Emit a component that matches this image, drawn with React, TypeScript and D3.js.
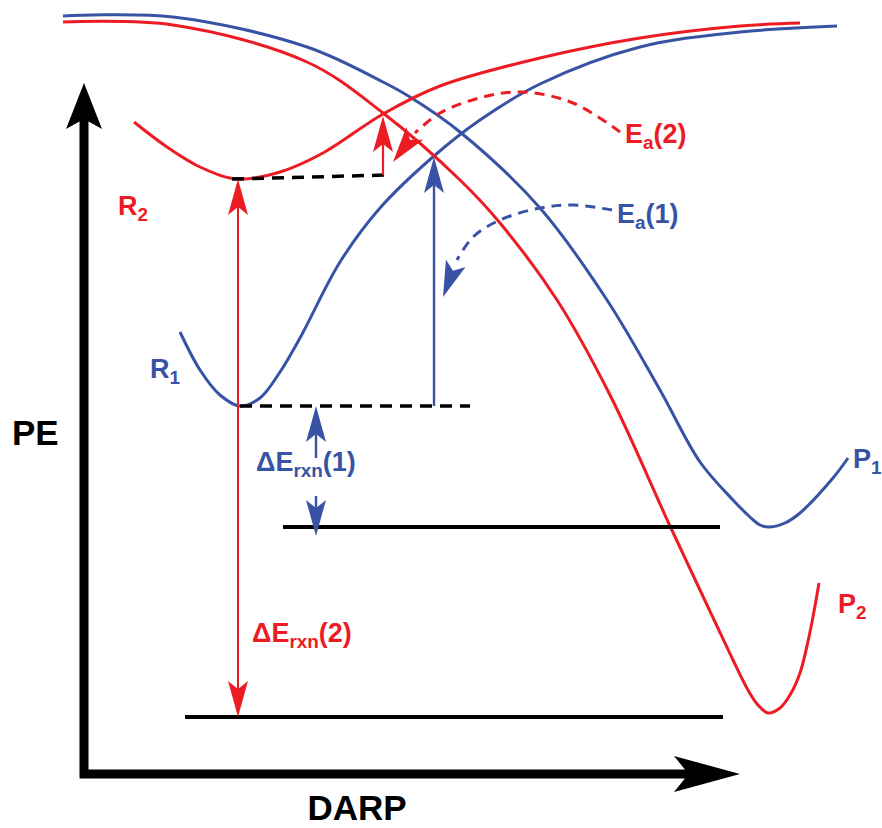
import * as d3 from "d3";

type Pt = [number, number];

const RED = "#ed1c24";
const BLUE = "#3953a4";

// DARP (x) and PE (y), measured from the corner of the axes
const reactant2: Pt[] = [
  [50, 652], [83, 627], [116, 607], [153, 595], [196, 602], [239, 621],
  [299, 660], [356, 688], [456, 716], [556, 736], [656, 748], [716, 751],
];
const reactant1: Pt[] = [
  [96, 442], [116, 404], [136, 379], [156, 368], [176, 376], [196, 402],
  [216, 436], [256, 512], [296, 566], [350, 618], [396, 654], [456, 690],
  [556, 727], [656, 742], [753, 748],
];
const product1: Pt[] = [
  [-21, 758], [89, 757], [223, 727], [299, 692], [326, 677], [376, 642],
  [456, 566], [523, 474], [576, 384], [616, 312], [649, 274], [666, 257],
  [676, 249], [686, 247], [701, 251], [716, 261], [749, 296], [764, 316],
];
const product2: Pt[] = [
  [-21, 752], [89, 749], [223, 712], [299, 661], [376, 594], [416, 551],
  [473, 474], [526, 379], [586, 248], [616, 184], [632, 150], [649, 114],
  [664, 84], [674, 69], [684, 61], [696, 66], [706, 79], [716, 101],
  [726, 142], [735, 191],
];
const ea2Path: Pt[] = [[536, 642], [489, 671], [439, 682], [399, 677], [356, 661], [331, 641]];
const ea2Tip: Pt = [309, 612];
const ea1Path: Pt[] = [[528, 564], [489, 569], [456, 566], [416, 554], [389, 537], [373, 514]];
const ea1Tip: Pt = [359, 477];

// energy levels [darp, pe] at both ends
const r2Level: Pt[] = [[148, 595], [303, 599]];
const r1Level: Pt[] = [[156, 368], [386, 368]];
const p1Level: Pt[] = [[199, 247], [636, 247]];
const p2Level: Pt[] = [[101, 57], [639, 57]];

const x = d3.scaleLinear().domain([0, 656]).range([84, 740]);
const y = d3.scaleLinear().domain([0, 691]).range([774, 83]);

const smooth = d3
  .line<Pt>()
  .x((d) => x(d[0]))
  .y((d) => y(d[1]))
  .curve(d3.curveCatmullRom.alpha(0.5));
const straight = d3
  .line<Pt>()
  .x((d) => x(d[0]))
  .y((d) => y(d[1]));

// barbed arrow head, tip and "from" in pixels
function head(tip: Pt, from: Pt, len: number, w: number) {
  const dx = tip[0] - from[0];
  const dy = tip[1] - from[1];
  const l = Math.hypot(dx, dy);
  const ux = dx / l, uy = dy / l;
  const nx = -uy, ny = ux;
  const bx = tip[0] - ux * len, by = tip[1] - uy * len;
  const mx = tip[0] - ux * len * 0.78, my = tip[1] - uy * len * 0.78;
  return `M${tip[0]},${tip[1]}L${bx + (nx * w) / 2},${by + (ny * w) / 2}L${mx},${my}L${bx - (nx * w) / 2},${by - (ny * w) / 2}Z`;
}

function px(d: Pt): Pt {
  return [x(d[0]), y(d[1])];
}

function Arrow({ a, b, color, width = 2.2, heads = "end" }: { a: Pt; b: Pt; color: string; width?: number; heads?: string }) {
  const A = px(a), B = px(b);
  const len = 36, w = 20;
  const l = Math.hypot(B[0] - A[0], B[1] - A[1]);
  const ux = (B[0] - A[0]) / l, uy = (B[1] - A[1]) / l;
  const s: Pt = heads === "both" ? [A[0] + ux * len * 0.78, A[1] + uy * len * 0.78] : A;
  const e: Pt = [B[0] - ux * len * 0.78, B[1] - uy * len * 0.78];
  return (
    <g>
      <line x1={s[0]} y1={s[1]} x2={e[0]} y2={e[1]} stroke={color} strokeWidth={width} />
      <path d={head(B, A, len, w)} fill={color} />
      {heads === "both" && <path d={head(A, B, len, w)} fill={color} />}
    </g>
  );
}

function CurvedArrow({ pts, tip, color }: { pts: Pt[]; tip: Pt; color: string }) {
  const last = px(pts[pts.length - 1]);
  return (
    <g>
      <path d={smooth(pts) ?? ""} fill="none" stroke={color} strokeWidth={3} strokeDasharray="10 7" />
      <path d={head(px(tip), last, 36, 21)} fill={color} />
    </g>
  );
}

function Label({ at, main, sub, rest, color, size = 27 }: { at: Pt; main: string; sub: string; rest?: string; color: string; size?: number }) {
  return (
    <text x={x(at[0])} y={y(at[1])} fill={color} fontSize={size} fontWeight="bold">
      <tspan>{main}</tspan>
      <tspan dy={6} fontSize={size * 0.7}>{sub}</tspan>
      {rest && <tspan dy={-6}>{rest}</tspan>}
    </text>
  );
}

export default function App() {
  const ax0 = px([0, 0]);
  const vTip = px([0, 691]);
  const hTip = px([656, 0]);
  return (
    <svg
      width={882}
      height={828}
      style={{ position: "absolute", left: 0, top: 0, background: "#fff" }}
      fontFamily="'Liberation Sans', Arial, sans-serif"
    >
      {/* curves */}
      <path d={smooth(product1) ?? ""} fill="none" stroke={BLUE} strokeWidth={3} />
      <path d={smooth(reactant1) ?? ""} fill="none" stroke={BLUE} strokeWidth={3} />
      <path d={smooth(product2) ?? ""} fill="none" stroke={RED} strokeWidth={3} />
      <path d={smooth(reactant2) ?? ""} fill="none" stroke={RED} strokeWidth={3} />

      {/* levels */}
      <path d={straight(r2Level) ?? ""} stroke="#000" strokeWidth={3.5} strokeDasharray="12 8" />
      <path d={straight(r1Level) ?? ""} stroke="#000" strokeWidth={3.5} strokeDasharray="12 8" />
      <path d={straight(p1Level) ?? ""} stroke="#000" strokeWidth={4} />
      <path d={straight(p2Level) ?? ""} stroke="#000" strokeWidth={4} />

      {/* vertical arrows */}
      <Arrow a={[154, 595]} b={[154, 57]} color={RED} width={2} heads="both" />
      <Arrow a={[299, 599]} b={[299, 658]} color={RED} width={2.2} />
      <Arrow a={[350, 368]} b={[350, 617]} color={BLUE} width={2.4} />
      <Arrow a={[232, 316]} b={[232, 368]} color={BLUE} width={2.4} />
      <Arrow a={[232, 278]} b={[232, 238]} color={BLUE} width={2.4} />

      {/* curved dashed arrows */}
      <CurvedArrow pts={ea2Path} tip={ea2Tip} color={RED} />
      <CurvedArrow pts={ea1Path} tip={ea1Tip} color={BLUE} />

      {/* axes */}
      <path
        d={`M${vTip[0]},${vTip[1] + 40}V${ax0[1]}H${hTip[0] - 55}`}
        fill="none"
        stroke="#000"
        strokeWidth={9}
        strokeLinejoin="miter"
        strokeLinecap="square"
      />
      <path d={head(vTip, ax0, 46, 36)} fill="#000" />
      <path d={head(hTip, ax0, 66, 36)} fill="#000" />

      {/* labels */}
      <Label at={[34, 559]} main="R" sub="2" color={RED} />
      <Label at={[66, 396]} main="R" sub="1" color={BLUE} />
      <Label at={[541, 631]} main="E" sub="a" rest="(2)" color={RED} />
      <Label at={[533, 551]} main="E" sub="a" rest="(1)" color={BLUE} />
      <Label at={[172, 303]} main="ΔE" sub="rxn" rest="(1)" color={BLUE} />
      <Label at={[168, 132]} main="ΔE" sub="rxn" rest="(2)" color={RED} />
      <Label at={[769, 306]} main="P" sub="1" color={BLUE} />
      <Label at={[754, 161]} main="P" sub="2" color={RED} />
      <text x={x(-72)} y={y(329)} fontSize={35} fontWeight="bold" fill="#000">PE</text>
      <text x={x(273)} y={y(-46)} fontSize={35} fontWeight="bold" fill="#000" textAnchor="middle">DARP</text>
    </svg>
  );
}
